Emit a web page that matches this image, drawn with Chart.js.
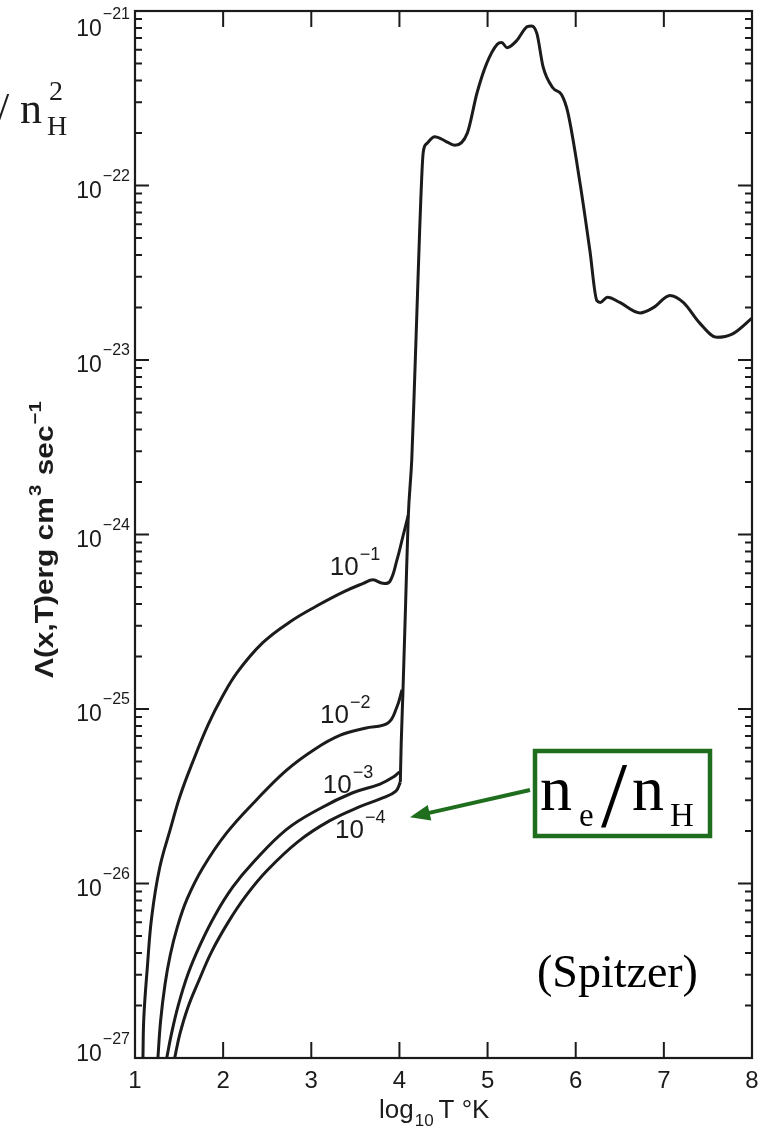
<!DOCTYPE html>
<html>
<head>
<meta charset="utf-8">
<script src="https://cdn.jsdelivr.net/npm/chart.js@4.4.1/dist/chart.umd.min.js"></script>
<style>
  html, body { margin: 0; padding: 0; background: #fff; }
  #wrap { width: 760px; height: 1138px; position: relative; }
</style>
</head>
<body>
<div id="wrap"><canvas id="cooling"></canvas></div>
<script>
// log10 T and log10 Lambda
const hotT = [4.01, 4.02, 4.04, 4.07, 4.10, 4.14, 4.17, 4.20, 4.23, 4.27, 4.31, 4.40, 4.52, 4.63, 4.77, 4.88, 4.99, 5.11, 5.16, 5.22, 5.33, 5.45, 5.50, 5.56, 5.63, 5.74, 5.84, 5.91, 6.05, 6.16, 6.24, 6.28, 6.36, 6.50, 6.73, 6.88, 7.07, 7.22, 7.41, 7.60, 7.78, 8.00];
const hotL = [-25.42, -25.20, -24.90, -24.40, -23.90, -23.57, -23.15, -22.70, -22.25, -21.81, -21.76, -21.72, -21.745, -21.77, -21.70, -21.47, -21.30, -21.19, -21.18, -21.21, -21.17, -21.09, -21.086, -21.13, -21.32, -21.44, -21.48, -21.58, -21.99, -22.37, -22.66, -22.67, -22.64, -22.67, -22.73, -22.70, -22.63, -22.67, -22.79, -22.87, -22.85, -22.76];

const e1T = [1.09, 1.10, 1.14, 1.19, 1.28, 1.40, 1.51, 1.65, 1.83, 1.99, 2.16, 2.45, 2.76, 3.06, 3.36, 3.59, 3.70, 3.81, 3.89, 3.97, 4.04, 4.10];
const e1L = [-27.0, -26.77, -26.48, -26.19, -25.91, -25.69, -25.50, -25.31, -25.09, -24.93, -24.79, -24.62, -24.50, -24.41, -24.33, -24.28, -24.26, -24.28, -24.27, -24.15, -24.01, -23.89];

const e2T = [1.26, 1.29, 1.34, 1.40, 1.48, 1.59, 1.77, 2.04, 2.38, 2.72, 3.04, 3.33, 3.61, 3.87, 3.97, 4.03];
const e2L = [-27.0, -26.79, -26.58, -26.41, -26.25, -26.09, -25.91, -25.71, -25.52, -25.35, -25.23, -25.15, -25.11, -25.08, -24.99, -24.89];

const e3T = [1.36, 1.41, 1.49, 1.60, 1.74, 1.91, 2.11, 2.34, 2.72, 3.10, 3.47, 3.78, 3.93, 4.00];
const e3L = [-27.0, -26.87, -26.70, -26.52, -26.35, -26.18, -26.02, -25.88, -25.69, -25.57, -25.48, -25.43, -25.39, -25.36];

const e4T = [1.45, 1.51, 1.60, 1.73, 1.87, 2.06, 2.26, 2.49, 2.85, 3.21, 3.55, 3.81, 3.96, 4.01];
const e4L = [-27.0, -26.86, -26.71, -26.55, -26.39, -26.22, -26.07, -25.93, -25.76, -25.64, -25.56, -25.51, -25.47, -25.42];

const curveExps = ['\u22121', '\u22122', '\u22123', '\u22124'];
const xTickLabels = [1, 2, 3, 4, 5, 6, 7, 8];
const yDecades = [-27, -26, -25, -24, -23, -22, -21];
const yMinors = [2, 3, 4, 5, 6, 7, 8, 9];

const ink = '#1b1b1b';
const green = '#1e6e1e';
const sans = '"Liberation Sans", Arial, sans-serif';
const serif = '"Liberation Serif", "Times New Roman", serif';

const toPts = (xs, ls) => xs.map((x, i) => ({ x: x, y: Math.pow(10, ls[i]) }));
const hotStyle = { borderColor: ink, borderWidth: 3, pointRadius: 0, fill: false, cubicInterpolationMode: 'monotone' };
const coolStyle = { borderColor: ink, borderWidth: 3, pointRadius: 0, fill: false, tension: 0.4 };

// "10" with a raised exponent, left edge at x
function power(ctx, x, base, exp, big, small, rise) {
  ctx.textAlign = 'left';
  ctx.font = big + 'px ' + sans;
  ctx.fillText('10', x, base);
  const w = ctx.measureText('10').width;
  ctx.font = small + 'px ' + sans;
  ctx.fillText(exp, x + w + 1, base - rise);
}

const decor = {
  id: 'decor',
  afterDraw(chart) {
    const { ctx, chartArea: a, scales: { x, y } } = chart;
    ctx.save();
    ctx.strokeStyle = ink;
    ctx.fillStyle = ink;
    ctx.lineCap = 'butt';

    // frame + inward ticks
    ctx.lineWidth = 2.2;
    ctx.strokeRect(a.left, a.top, a.right - a.left, a.bottom - a.top);
    ctx.lineWidth = 2;
    ctx.beginPath();
    y.ticks.forEach(t => {
      const py = y.getPixelForValue(t.value);
      const len = t.major ? 14 : 7;
      ctx.moveTo(a.left, py); ctx.lineTo(a.left + len, py);
      ctx.moveTo(a.right, py); ctx.lineTo(a.right - len, py);
    });
    x.ticks.forEach(t => {
      if (t.value === x.min || t.value === x.max) return;
      const px = x.getPixelForValue(t.value);
      ctx.moveTo(px, a.bottom); ctx.lineTo(px, a.bottom - 16);
      ctx.moveTo(px, a.top); ctx.lineTo(px, a.top + 16);
    });
    ctx.stroke();

    // x tick labels
    ctx.textBaseline = 'alphabetic';
    ctx.textAlign = 'center';
    ctx.font = '24px ' + sans;
    xTickLabels.forEach(v => ctx.fillText(String(v), x.getPixelForValue(v), a.bottom + 30));

    // y tick labels
    yDecades.forEach(d => {
      const py = y.getPixelForValue(Math.pow(10, d));
      const exp = '\u2212' + Math.abs(d);
      ctx.font = '16px ' + sans;
      const ew = ctx.measureText(exp).width;
      ctx.font = '23px ' + sans;
      const bw = ctx.measureText('10').width;
      const base = Math.min(Math.max(py + 12, 36), a.bottom + 3);
      power(ctx, a.left - 5 - ew - 1 - bw, base, exp, 23, 16, 17);
    });

    // x title
    ctx.textAlign = 'left';
    ctx.font = '26px ' + sans;
    let tx = 379;
    ctx.fillText('log', tx, a.bottom + 60);
    tx += ctx.measureText('log').width + 1;
    ctx.font = '17px ' + sans;
    ctx.fillText('10', tx, a.bottom + 68);
    tx += ctx.measureText('10').width + 5;
    ctx.font = '26px ' + sans;
    ctx.fillText('T \u00b0K', tx, a.bottom + 60);

    // y title, rotated and stretched to the scanned length
    ctx.save();
    ctx.translate(53, 678);
    ctx.rotate(-Math.PI / 2);
    const parts = [['\u039b(x,T)erg cm', 25, 0], ['3', 17, -12], [' sec', 25, 0], ['\u22121', 17, -12]];
    let total = 0;
    parts.forEach(p => { ctx.font = 'bold ' + p[1] + 'px ' + sans; total += ctx.measureText(p[0]).width + 1; });
    ctx.scale(278 / total, 1);
    let sx = 0;
    parts.forEach(p => {
      ctx.font = 'bold ' + p[1] + 'px ' + sans;
      ctx.fillText(p[0], sx, p[2]);
      sx += ctx.measureText(p[0]).width + 1;
    });
    ctx.restore();

    // curve labels (ne/nH), anchored in data space
    const anchors = [[3.21, -24.23], [3.10, -25.08], [3.13, -25.48], [3.27, -25.74]];
    anchors.forEach((p, i) => {
      power(ctx, x.getPixelForValue(p[0]), y.getPixelForValue(Math.pow(10, p[1])), curveExps[i], 26, 18, 15);
    });

    // top-left leftover of the slide caption
    ctx.font = '44px ' + serif;
    ctx.fillText('/', -3, 123);
    ctx.fillText('n', 20, 123);
    ctx.font = '28px ' + serif;
    ctx.fillText('2', 49, 100);
    ctx.fillText('H', 47, 135);

    // green legend box + arrow
    ctx.strokeStyle = green;
    ctx.fillStyle = green;
    ctx.lineWidth = 4.5;
    ctx.strokeRect(535, 751, 175, 85);
    const tipX = x.getPixelForValue(4.12), tipY = y.getPixelForValue(Math.pow(10, -25.62));
    const tailX = 530, tailY = 790;
    const ang = Math.atan2(tipY - tailY, tipX - tailX);
    ctx.lineWidth = 4;
    ctx.beginPath();
    ctx.moveTo(tailX, tailY);
    ctx.lineTo(tipX - 14 * Math.cos(ang), tipY - 14 * Math.sin(ang));
    ctx.stroke();
    ctx.beginPath();
    ctx.moveTo(tipX, tipY);
    ctx.lineTo(tipX - 20 * Math.cos(ang) + 8 * Math.sin(ang), tipY - 20 * Math.sin(ang) - 8 * Math.cos(ang));
    ctx.lineTo(tipX - 20 * Math.cos(ang) - 8 * Math.sin(ang), tipY - 20 * Math.sin(ang) + 8 * Math.cos(ang));
    ctx.closePath();
    ctx.fill();

    ctx.fillStyle = '#000';
    ctx.font = '64px ' + serif;
    ctx.fillText('n', 540, 810);
    ctx.fillText('n', 632, 810);
    ctx.font = '94px ' + serif;
    ctx.fillText('/', 601, 826);
    ctx.font = '33px ' + serif;
    ctx.fillText('e', 579, 826);
    ctx.fillText('H', 670, 826);

    ctx.font = '46px ' + serif;
    ctx.fillText('(Spitzer)', 537, 987);
    ctx.restore();
  }
};

new Chart(document.getElementById('cooling'), {
  type: 'line',
  data: {
    datasets: [
      Object.assign({ label: 'hot', data: toPts(hotT, hotL) }, hotStyle),
      Object.assign({ label: '1e-1', data: toPts(e1T, e1L) }, coolStyle),
      Object.assign({ label: '1e-2', data: toPts(e2T, e2L) }, coolStyle),
      Object.assign({ label: '1e-3', data: toPts(e3T, e3L) }, coolStyle),
      Object.assign({ label: '1e-4', data: toPts(e4T, e4L) }, coolStyle)
    ]
  },
  options: {
    responsive: true,
    maintainAspectRatio: false,
    animation: false,
    events: [],
    layout: { padding: { left: 135, right: 8, top: 11, bottom: 80 } },
    plugins: { legend: { display: false }, tooltip: { enabled: false } },
    scales: {
      x: {
        type: 'linear', min: 1, max: 8,
        ticks: { display: false, stepSize: 1 },
        grid: { display: false, drawTicks: false },
        border: { display: false },
        afterFit: s => { s.height = 0; }
      },
      y: {
        type: 'logarithmic', min: 1e-27, max: 1e-21,
        ticks: { display: false },
        grid: { display: false, drawTicks: false },
        border: { display: false },
        afterBuildTicks: s => {
          const t = [];
          yDecades.forEach(d => {
            t.push({ value: Math.pow(10, d), major: true });
            if (d < -21) yMinors.forEach(m => t.push({ value: m * Math.pow(10, d), major: false }));
          });
          s.ticks = t;
        },
        afterFit: s => { s.width = 0; }
      }
    }
  },
  plugins: [decor]
});
</script>
</body>
</html>
